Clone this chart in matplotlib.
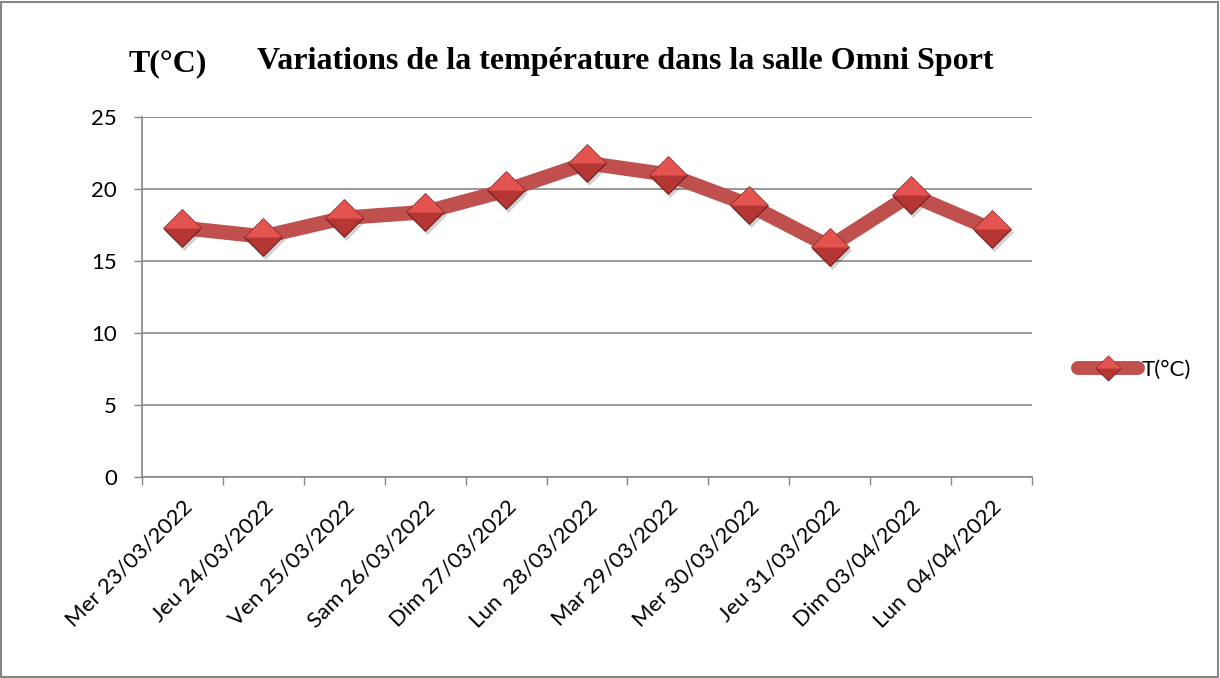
import matplotlib.pyplot as plt
import numpy as np
from matplotlib.path import Path
from matplotlib.patches import Rectangle
from matplotlib.legend_handler import HandlerTuple
import matplotlib.transforms as mtransforms

days = ['Mer 23/03/2022', 'Jeu 24/03/2022', 'Ven 25/03/2022', 'Sam 26/03/2022',
        'Dim 27/03/2022', 'Lun  28/03/2022', 'Mar 29/03/2022', 'Mer 30/03/2022',
        'Jeu 31/03/2022', 'Dim 03/04/2022', 'Lun  04/04/2022']
temps = [17.3, 16.7, 18.0, 18.4, 19.9, 21.8, 21.0, 18.9, 16.0, 19.6, 17.2]
y_ticks = [0, 5, 10, 15, 20, 25]

TITLE = 'Variations de la température dans la salle Omni Sport'
SERIES = 'T(°C)'

LINE_COLOR = '#c0504d'
DARK = '#b53633'
LIGHT = '#e35450'
EDGE = '#6e2220'
GRID = '#868686'
SANS = ['Lato', 'DejaVu Sans']
SERIF = ['Liberation Serif', 'DejaVu Serif']
FONT_SIZE = 16

diamond = Path([(-1, 0), (0, 1), (1, 0), (0, -1), (-1, 0)],
               [Path.MOVETO, Path.LINETO, Path.LINETO, Path.LINETO, Path.CLOSEPOLY])
top_half = Path([(-1, 0), (0, 1), (1, 0), (-1, 0)],
                [Path.MOVETO, Path.LINETO, Path.LINETO, Path.CLOSEPOLY])

fig = plt.figure(figsize=(12.2, 6.78), dpi=100)
ax = fig.add_axes([142 / 1220, 1 - 477 / 678, 890 / 1220, 360 / 678])

x = np.arange(len(days))

# soft shadow under markers
shadow = mtransforms.offset_copy(ax.transData, fig=fig, x=2, y=-3, units='dots')
ax.plot(x, temps, linestyle='none', marker=diamond, markersize=28,
        color='#000000', alpha=0.18, markeredgewidth=0, transform=shadow, zorder=2)

ax.plot(x, temps, color=LINE_COLOR, linewidth=10.5, solid_capstyle='round', zorder=3)
ax.plot(x, temps, linestyle='none', marker=diamond, markersize=27,
        markerfacecolor=DARK, markeredgecolor=EDGE, markeredgewidth=0.8, zorder=4)
ax.plot(x, temps, linestyle='none', marker=top_half, markersize=27,
        markerfacecolor=LIGHT, markeredgewidth=0, zorder=5)

ax.set_xlim(-0.5, len(days) - 0.5)
ax.set_ylim(0, 25)
ax.set_yticks(y_ticks)
ax.set_yticklabels([str(v) for v in y_ticks], fontsize=FONT_SIZE, family=SANS)

# Excel-style category axis: tick marks between categories, labels centered
ax.set_xticks(np.arange(-0.5, len(days), 1.0))
ax.set_xticklabels([])
ax.set_xticks(x, minor=True)
ax.set_xticklabels(days, minor=True, rotation=45, ha='right',
                   rotation_mode='anchor', fontsize=FONT_SIZE, family=SANS)
ax.tick_params(axis='x', which='major', length=6, color=GRID, width=1)
ax.tick_params(axis='x', which='minor', length=0, pad=14)
ax.tick_params(axis='y', length=6, color=GRID, width=1, pad=12)

ax.grid(axis='y', color=GRID, linewidth=1.2)
ax.set_axisbelow(True)
for s in ['top', 'right']:
    ax.spines[s].set_visible(False)
for s in ['left', 'bottom']:
    ax.spines[s].set_color(GRID)
    ax.spines[s].set_linewidth(1.2)

fig.text(625 / 1220, 1 - 62 / 678, TITLE, ha='center', va='center',
         fontsize=23, fontweight='bold', family=SERIF)
fig.text(168 / 1220, 1 - 64 / 678, SERIES, ha='center', va='center',
         fontsize=23, fontweight='bold', family=SERIF)

# legend
h_line = plt.Line2D([], [], color=LINE_COLOR, linewidth=10, solid_capstyle='round',
                    marker=diamond, markersize=18, markerfacecolor=DARK,
                    markeredgecolor=EDGE, markeredgewidth=0.6)
h_top = plt.Line2D([], [], linestyle='none', marker=top_half, markersize=18,
                   markerfacecolor=LIGHT, markeredgewidth=0)
fig.legend([(h_line, h_top)], [SERIES], handler_map={tuple: HandlerTuple(ndivide=1)},
           loc='center left', bbox_to_anchor=(1078 / 1220, 1 - 370 / 678),
           frameon=False, prop={'family': SANS, 'size': FONT_SIZE},
           handlelength=2.7, handletextpad=0.15, borderpad=0, borderaxespad=0)

fig.patches.append(Rectangle((1 / 1220, 1 / 678), 1217 / 1220, 675 / 678,
                             transform=fig.transFigure, fill=False,
                             edgecolor='#868686', linewidth=1.5))

fig.savefig('out.png', dpi=100)
